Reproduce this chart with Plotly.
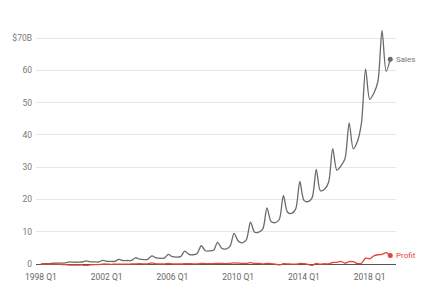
import plotly.graph_objects as go

years = list(range(1998, 2020))
quarters = [f"{y} Q{q}" for y in years for q in range(1, 5)][:86]

sales = [
    0.087, 0.116, 0.154, 0.253,
    0.294, 0.314, 0.356, 0.676,
    0.574, 0.578, 0.638, 0.972,
    0.701, 0.668, 0.639, 1.115,
    0.847, 0.806, 0.851, 1.429,
    1.084, 1.100, 1.134, 1.946,
    1.530, 1.387, 1.463, 2.541,
    1.902, 1.753, 1.858, 2.977,
    2.279, 2.139, 2.307, 3.986,
    3.015, 2.886, 3.262, 5.673,
    4.135, 4.063, 4.265, 6.704,
    4.889, 4.651, 5.449, 9.519,
    7.131, 6.566, 7.560, 12.948,
    9.857, 9.913, 10.876, 17.431,
    13.185, 12.834, 13.806, 21.268,
    16.070, 15.704, 17.092, 25.587,
    19.741, 19.340, 20.579, 29.328,
    22.717, 23.185, 25.358, 35.747,
    29.128, 30.404, 32.714, 43.741,
    35.714, 37.955, 43.744, 60.453,
    51.042, 52.886, 56.576, 72.383,
    59.700, 63.404,
]

profit = [
    -0.010, -0.022, -0.045, -0.038,
    -0.036, -0.138, -0.197, -0.323,
    -0.308, -0.317, -0.241, -0.545,
    -0.234, -0.168, -0.170, 0.005,
    -0.002, -0.094, -0.035, 0.003,
    0.001, -0.043, 0.015, 0.073,
    0.108, 0.076, 0.054, 0.347,
    0.078, 0.052, 0.030, 0.199,
    0.051, 0.022, 0.019, 0.098,
    0.111, 0.078, 0.080, 0.207,
    0.143, 0.158, 0.118, 0.225,
    0.177, 0.142, 0.199, 0.384,
    0.299, 0.207, 0.231, 0.416,
    0.201, 0.191, 0.063, 0.177,
    0.130, 0.007, -0.274, 0.097,
    0.082, -0.007, -0.041, 0.239,
    0.108, -0.126, -0.437, 0.214,
    -0.057, 0.092, 0.079, 0.482,
    0.513, 0.857, 0.252, 0.749,
    0.724, 0.197, 0.256, 1.856,
    1.629, 2.534, 2.883, 3.027,
    3.561, 2.625,
]

x_tick_labels = ["1998 Q1", "2002 Q1", "2006 Q1", "2010 Q1", "2014 Q1", "2018 Q1"]
y_tick_vals = [0, 10, 20, 30, 40, 50, 60, 70]
y_tick_text = ["0", "10", "20", "30", "40", "50", "60", "$70B"]

x = [int(q[:4]) + (int(q[-1]) - 1) / 4 for q in quarters]
x_tick_vals = [int(t[:4]) for t in x_tick_labels]

SALES_C = "#6b6b6b"
PROFIT_C = "#e8433a"
FONT = "Roboto"

fig = go.Figure()
fig.add_trace(go.Scatter(x=x, y=sales, mode="lines",
                         line=dict(color=SALES_C, width=1.3, shape="spline", smoothing=0.8),
                         hoverinfo="skip", showlegend=False))
fig.add_trace(go.Scatter(x=x, y=profit, mode="lines",
                         line=dict(color=PROFIT_C, width=1.3, shape="spline", smoothing=0.6),
                         hoverinfo="skip", showlegend=False))
fig.add_trace(go.Scatter(x=[x[-1]], y=[sales[-1]], mode="markers",
                         marker=dict(color=SALES_C, size=5), showlegend=False, hoverinfo="skip"))
fig.add_trace(go.Scatter(x=[x[-1]], y=[profit[-1]], mode="markers",
                         marker=dict(color=PROFIT_C, size=5), showlegend=False, hoverinfo="skip"))

fig.add_annotation(x=x[-1], y=sales[-1], text="Sales", showarrow=False,
                   xanchor="left", xshift=4, font=dict(family=FONT, size=8, color="#777777"))
fig.add_annotation(x=x[-1], y=profit[-1], text="Profit", showarrow=False,
                   xanchor="left", xshift=4, font=dict(family=FONT, size=8, color=PROFIT_C))

fig.update_layout(
    width=433, height=303,
    margin=dict(l=31, r=37, t=30, b=37),
    paper_bgcolor="white", plot_bgcolor="white",
    font=dict(family=FONT, size=8.5, color="#777777"),
    xaxis=dict(range=[1997.7, 2019.6], tickvals=x_tick_vals, ticktext=x_tick_labels,
               showgrid=False, zeroline=False, showline=False,
               ticks="outside", ticklen=3, tickcolor="rgba(0,0,0,0)",
               tickfont=dict(size=8.5, color="#666666")),
    yaxis=dict(range=[-0.6, 72.5], tickvals=y_tick_vals, ticktext=y_tick_text,
               showgrid=True, gridcolor="#e6e6e6", gridwidth=1,
               zeroline=True, zerolinecolor="#555555", zerolinewidth=1,
               ticks="", ticklabelstandoff=3,
               tickfont=dict(size=8.5, color="#777777")),
)

fig.write_html("out.html")
